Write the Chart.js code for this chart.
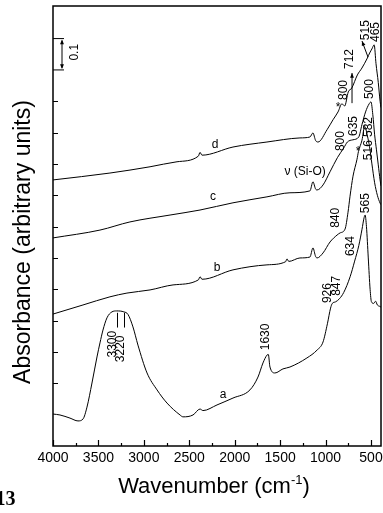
<!DOCTYPE html>
<html lang="en">
<head>
<meta charset="UTF-8">
<title>IR spectra a-d</title>
<script src="https://cdn.jsdelivr.net/npm/chart.js"></script>
<style>
  html, body { margin: 0; padding: 0; background: #fff; }
  #wrap { width: 383px; height: 513px; }
</style>
</head>
<body>
<div id="wrap"><canvas id="ir-chart" width="383" height="513"></canvas></div>
<script>
// wavenumbers (cm-1) and absorbance for each spectrum
const wnA = [4000, 3923, 3813, 3725, 3670, 3626, 3571, 3516, 3483, 3450, 3406, 3351, 3300, 3220, 3175, 3120, 3065, 2965, 2855, 2745, 2602, 2569, 2459, 2382, 2349, 2195, 2019, 1832, 1744, 1689, 1645, 1630, 1612, 1557, 1469, 1392, 1205, 1094, 1028, 980, 945, 926, 890, 847, 800, 730, 680, 634, 600, 575, 565, 550, 530, 510, 495, 470, 450, 430, 400, 390];
const absA = [0.102, 0.099, 0.089, 0.080, 0.086, 0.124, 0.201, 0.284, 0.329, 0.370, 0.409, 0.428, 0.431, 0.428, 0.420, 0.380, 0.322, 0.233, 0.179, 0.137, 0.099, 0.093, 0.099, 0.118, 0.113, 0.131, 0.153, 0.179, 0.220, 0.265, 0.290, 0.292, 0.252, 0.233, 0.246, 0.252, 0.281, 0.306, 0.332, 0.390, 0.440, 0.455, 0.460, 0.470, 0.490, 0.540, 0.590, 0.640, 0.690, 0.730, 0.737, 0.700, 0.600, 0.500, 0.460, 0.455, 0.462, 0.450, 0.445, 0.443];

const wnB = [4000, 3670, 3373, 3186, 2932, 2679, 2400, 2382, 2360, 2019, 1645, 1440, 1425, 1405, 1282, 1172, 1139, 1110, 1094, 1028, 951, 874, 840, 786, 753, 731, 698, 654, 638, 599, 570, 540, 516, 490, 460, 430, 400, 390];
const absB = [0.421, 0.450, 0.476, 0.488, 0.498, 0.514, 0.530, 0.540, 0.532, 0.562, 0.578, 0.588, 0.597, 0.589, 0.600, 0.603, 0.632, 0.605, 0.600, 0.616, 0.651, 0.673, 0.680, 0.692, 0.746, 0.797, 0.861, 0.915, 0.940, 0.976, 1.020, 0.990, 0.955, 0.900, 0.840, 0.800, 0.775, 0.770];

const wnC = [4000, 3483, 3153, 2712, 2382, 2019, 1645, 1392, 1172, 1139, 1110, 1094, 1028, 951, 870, 800, 760, 700, 635, 600, 560, 520, 500, 480, 460, 440, 420, 400, 390];
const absC = [0.664, 0.689, 0.715, 0.737, 0.753, 0.776, 0.795, 0.808, 0.814, 0.843, 0.820, 0.817, 0.833, 0.875, 0.920, 0.951, 0.970, 0.977, 0.986, 1.025, 1.066, 1.092, 1.098, 1.057, 0.993, 0.945, 0.897, 0.849, 0.830];

const wnD = [4000, 3373, 2932, 2635, 2400, 2382, 2360, 2019, 1645, 1282, 1172, 1139, 1110, 1083, 984, 918, 863, 820, 790, 750, 712, 650, 600, 540, 515, 490, 465, 445, 420, 400, 390];
const absD = [0.849, 0.871, 0.891, 0.907, 0.925, 0.937, 0.928, 0.954, 0.970, 0.983, 0.986, 0.999, 0.975, 0.970, 1.009, 1.041, 1.066, 1.092, 1.085, 1.130, 1.142, 1.184, 1.206, 1.238, 1.254, 1.267, 1.280, 1.220, 1.160, 1.100, 1.080];

const xMajorTicks = [4000, 3500, 3000, 2500, 2000, 1500, 1000, 500];
const xMinorTicks = [3750, 3250, 2750, 2250, 1750, 1250, 750];
const yTicks = [0.2, 0.3, 0.4, 0.5, 0.6, 0.7, 0.8, 0.9, 1.0, 1.1];

// peak labels, in data units (wn, absorbance); rot = written vertically
const peakLabels = [
  { text: '515', wn: 555, y: 1.327, rot: true },
  { text: '465', wn: 445, y: 1.321, rot: true },
  { text: '712', wn: 731, y: 1.235, rot: true },
  { text: '800', wn: 797, y: 1.136, rot: true },
  { text: '*', wn: 863, y: 1.080, rot: false },
  { text: '500', wn: 511, y: 1.139, rot: true },
  { text: '635', wn: 687, y: 1.021, rot: true },
  { text: '800', wn: 830, y: 0.973, rot: true },
  { text: '582', wn: 522, y: 1.018, rot: true },
  { text: '516', wn: 522, y: 0.944, rot: true },
  { text: 'ν (Si-O)', wn: 1226, y: 0.874, rot: false },
  { text: '*', wn: 643, y: 0.938, rot: false },
  { text: '840', wn: 885, y: 0.728, rot: true },
  { text: '565', wn: 555, y: 0.775, rot: true },
  { text: '634', wn: 720, y: 0.638, rot: true },
  { text: '926', wn: 973, y: 0.488, rot: true },
  { text: '847', wn: 874, y: 0.511, rot: true },
  { text: '3300', wn: 3340, y: 0.325, rot: true },
  { text: '3220', wn: 3252, y: 0.310, rot: true },
  { text: '1630', wn: 1656, y: 0.348, rot: true },
  { text: 'a', wn: 2129, y: 0.163, rot: false },
  { text: 'b', wn: 2195, y: 0.568, rot: false },
  { text: 'c', wn: 2239, y: 0.795, rot: false },
  { text: 'd', wn: 2217, y: 0.960, rot: false }
];

const FONT = '"Liberation Sans", Arial, sans-serif';

function toXY(wn, ab) {
  return wn.map((x, i) => ({ x: x, y: ab[i] }));
}

function vText(ctx, text, x, y) {
  ctx.save();
  ctx.translate(x, y);
  ctx.rotate(-Math.PI / 2);
  ctx.fillText(text, 0, 0);
  ctx.restore();
}

function arrowHead(ctx, x1, y1, x2, y2) {
  const a = Math.atan2(y2 - y1, x2 - x1);
  ctx.beginPath();
  ctx.moveTo(x2, y2);
  ctx.lineTo(x2 - 5 * Math.cos(a - 0.4), y2 - 5 * Math.sin(a - 0.4));
  ctx.lineTo(x2 - 5 * Math.cos(a + 0.4), y2 - 5 * Math.sin(a + 0.4));
  ctx.closePath();
  ctx.fill();
}

function arrow(ctx, x1, y1, x2, y2) {
  ctx.beginPath();
  ctx.moveTo(x1, y1);
  ctx.lineTo(x2, y2);
  ctx.stroke();
  arrowHead(ctx, x1, y1, x2, y2);
}

const framePlugin = {
  id: 'frame',
  afterDraw(chart) {
    const ctx = chart.ctx;
    const area = chart.chartArea;
    const xs = chart.scales.x;
    const ys = chart.scales.y;
    ctx.save();
    ctx.strokeStyle = '#000';
    ctx.fillStyle = '#000';

    // box
    ctx.lineWidth = 1.5;
    ctx.strokeRect(area.left, area.top, area.right - area.left, area.bottom - area.top);

    // x ticks, pointing inwards
    ctx.lineWidth = 1.2;
    ctx.beginPath();
    xMajorTicks.forEach(v => {
      const px = Math.round(xs.getPixelForValue(v)) + 0.5;
      ctx.moveTo(px, area.bottom);
      ctx.lineTo(px, area.bottom - 6);
    });
    xMinorTicks.forEach(v => {
      const px = Math.round(xs.getPixelForValue(v)) + 0.5;
      ctx.moveTo(px, area.bottom);
      ctx.lineTo(px, area.bottom - 3);
    });
    yTicks.forEach(v => {
      const py = Math.round(ys.getPixelForValue(v)) + 0.5;
      ctx.moveTo(area.left, py);
      ctx.lineTo(area.left + 5, py);
    });
    ctx.stroke();

    // tick labels
    ctx.font = '14px ' + FONT;
    ctx.textAlign = 'center';
    ctx.textBaseline = 'alphabetic';
    xMajorTicks.forEach(v => {
      ctx.fillText(String(v), xs.getPixelForValue(v), 462);
    });

    // axis titles
    ctx.font = '23px ' + FONT;
    ctx.save();
    ctx.translate(30, 242);
    ctx.rotate(-Math.PI / 2);
    ctx.textAlign = 'center';
    ctx.fillText('Absorbance (arbitrary units)', 0, 0);
    ctx.restore();

    ctx.textAlign = 'left';
    const p1 = 'Wavenumber (cm', p2 = '-1', p3 = ')';
    ctx.font = '22px ' + FONT;
    const w1 = ctx.measureText(p1).width;
    const w3 = ctx.measureText(p3).width;
    ctx.font = '13px ' + FONT;
    const w2 = ctx.measureText(p2).width;
    let tx = 214 - (w1 + w2 + w3) / 2;
    ctx.font = '22px ' + FONT;
    ctx.fillText(p1, tx, 493);
    ctx.font = '13px ' + FONT;
    ctx.fillText(p2, tx + w1, 484);
    ctx.font = '22px ' + FONT;
    ctx.fillText(p3, tx + w1 + w2, 493);

    // scale bar 0.1
    const b1 = ys.getPixelForValue(1.3), b2 = ys.getPixelForValue(1.2);
    const bx = area.left + 9;
    ctx.lineWidth = 1;
    ctx.beginPath();
    ctx.moveTo(area.left, b1); ctx.lineTo(area.left + 11, b1);
    ctx.moveTo(area.left, b2); ctx.lineTo(area.left + 11, b2);
    ctx.moveTo(bx, b1 + 2); ctx.lineTo(bx, b2 - 2);
    ctx.stroke();
    arrowHead(ctx, bx, b2, bx, b1 + 1);
    arrowHead(ctx, bx, b1, bx, b2 - 1);
    ctx.font = '12px ' + FONT;
    ctx.textAlign = 'center';
    ctx.textBaseline = 'middle';
    vText(ctx, '0.1', area.left + 22, (b1 + b2) / 2 - 2);

    // peak labels
    ctx.font = '12px ' + FONT;
    peakLabels.forEach(l => {
      const px = xs.getPixelForValue(l.wn);
      const py = ys.getPixelForValue(l.y);
      if (l.rot) vText(ctx, l.text, px, py);
      else ctx.fillText(l.text, px, py);
    });

    // marker lines and arrows
    ctx.lineWidth = 1;
    ctx.beginPath();
    [3300, 3220].forEach(v => {
      const px = Math.round(xs.getPixelForValue(v)) + 0.5;
      ctx.moveTo(px, ys.getPixelForValue(0.425));
      ctx.lineTo(px, ys.getPixelForValue(0.378));
    });
    ctx.stroke();
    arrow(ctx, xs.getPixelForValue(709), ys.getPixelForValue(1.094), xs.getPixelForValue(709), ys.getPixelForValue(1.19));
    arrow(ctx, xs.getPixelForValue(533), ys.getPixelForValue(1.241), xs.getPixelForValue(599), ys.getPixelForValue(1.292));

    // figure number, cut at the left edge
    ctx.font = 'bold 20px "Liberation Serif", "DejaVu Serif", serif';
    ctx.textAlign = 'right';
    ctx.textBaseline = 'alphabetic';
    ctx.fillText('13', 15.5, 505);

    ctx.restore();
  }
};

const lineStyle = { borderColor: '#000', borderWidth: 1, pointRadius: 0, fill: false, cubicInterpolationMode: 'monotone' };

new Chart(document.getElementById('ir-chart'), {
  type: 'line',
  data: {
    datasets: [
      Object.assign({ label: 'a', data: toXY(wnA, absA) }, lineStyle),
      Object.assign({ label: 'b', data: toXY(wnB, absB) }, lineStyle),
      Object.assign({ label: 'c', data: toXY(wnC, absC) }, lineStyle),
      Object.assign({ label: 'd', data: toXY(wnD, absD) }, lineStyle)
    ]
  },
  options: {
    responsive: false,
    animation: false,
    devicePixelRatio: 1,
    layout: { padding: { left: 53, right: 2, top: 6, bottom: 67 } },
    plugins: { legend: { display: false }, tooltip: { enabled: false } },
    scales: {
      x: { type: 'linear', reverse: true, min: 390, max: 4000, display: false },
      y: { type: 'linear', min: 0, max: 1.404, display: false }
    }
  },
  plugins: [framePlugin]
});
</script>
</body>
</html>
